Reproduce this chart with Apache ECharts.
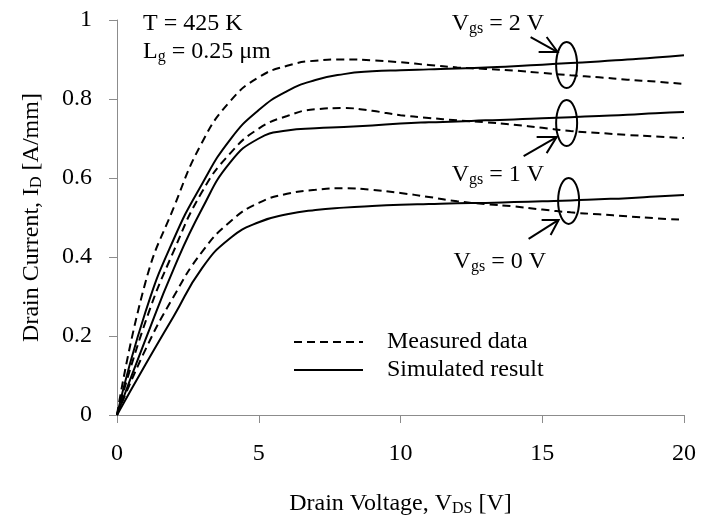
<!DOCTYPE html>
<html><head><meta charset="utf-8">
<script src="https://cdn.jsdelivr.net/npm/echarts@6/dist/echarts.min.js"></script>
<style>html,body{margin:0;padding:0;background:#fff}#c{width:702px;height:518px}</style>
</head><body><div id="c"></div>
<script>
// Drain voltage samples (V)
const vds = [0, 1, 2, 3, 4, 5, 6, 7, 8, 9, 10, 11, 12, 13, 14, 15, 16, 17, 18, 19, 20];
// Drain current (A/mm)
const measuredVgs2  = [0, 0.335, 0.525, 0.69, 0.795, 0.855, 0.884, 0.897, 0.9, 0.898, 0.893, 0.886, 0.88, 0.876, 0.872, 0.866, 0.86, 0.855, 0.849, 0.844, 0.838];
const simulatedVgs2 = [0, 0.26, 0.445, 0.585, 0.698, 0.772, 0.82, 0.848, 0.863, 0.87, 0.873, 0.875, 0.877, 0.88, 0.883, 0.887, 0.891, 0.895, 0.9, 0.905, 0.911];
const measuredVgs1  = [0, 0.235, 0.415, 0.565, 0.663, 0.725, 0.757, 0.774, 0.777, 0.77, 0.759, 0.752, 0.746, 0.741, 0.735, 0.727, 0.719, 0.714, 0.709, 0.705, 0.701];
const simulatedVgs1 = [0, 0.19, 0.37, 0.522, 0.64, 0.7, 0.72, 0.726, 0.729, 0.733, 0.738, 0.741, 0.743, 0.746, 0.748, 0.751, 0.754, 0.757, 0.76, 0.764, 0.767];
const measuredVgs0  = [0, 0.165, 0.3, 0.413, 0.49, 0.537, 0.56, 0.57, 0.574, 0.57, 0.562, 0.552, 0.541, 0.534, 0.528, 0.52, 0.513, 0.508, 0.503, 0.498, 0.494];
const simulatedVgs0 = [0, 0.127, 0.25, 0.372, 0.448, 0.488, 0.508, 0.519, 0.525, 0.529, 0.532, 0.534, 0.536, 0.537, 0.539, 0.541, 0.543, 0.546, 0.549, 0.553, 0.557];
// Axis ticks
const xTicks = {min: 0, max: 20, interval: 5};
const yTicks = {min: 0, max: 1, interval: 0.2};
// Annotation labels (gate voltages) and the point each ellipse marks
const gateLabels = ['2', '1', '0'];
const ellipseAt = [[15.86, 0.886], [15.86, 0.739], [15.93, 0.542]];

const FONT = '"Liberation Serif", "Times New Roman", serif';
const rich = {
  m: {fontFamily: FONT, fontSize: 24, lineHeight: 26, color: '#000'},
  s: {fontFamily: FONT, fontSize: 16, lineHeight: 10, verticalAlign: 'bottom', color: '#000'}
};
const pairs = ys => vds.map((v, i) => [v, ys[i]]);
const dashed = {color: '#000', width: 2, type: [8, 5]};
const solid = {color: '#000', width: 2, type: 'solid'};
const mk = (name, ys, ls) => ({
  type: 'line', name, data: pairs(ys), smooth: 0.5, symbol: 'none', showSymbol: false,
  lineStyle: ls, itemStyle: {color: '#000'}, silent: true
});

const chart = echarts.init(document.getElementById('c'), null, {renderer: 'canvas'});
const axisGray = '#8c8c8c';
chart.setOption({
  animation: false,
  backgroundColor: '#fff',
  grid: {left: 117, right: 18, top: 20, bottom: 103, containLabel: false, outerBoundsMode: 'none'},
  xAxis: {
    type: 'value', min: xTicks.min, max: xTicks.max, interval: xTicks.interval,
    axisLine: {lineStyle: {color: axisGray, width: 1}},
    axisTick: {show: true, length: 8, lineStyle: {color: axisGray}},
    splitLine: {show: false},
    axisLabel: {fontFamily: FONT, fontSize: 24, color: '#000', margin: 27},
    name: '{m|Drain Voltage, V}{s|DS}{m| [V]}', nameLocation: 'middle', nameGap: 76,
    nameTextStyle: {rich}
  },
  yAxis: {
    type: 'value', min: yTicks.min, max: yTicks.max, interval: yTicks.interval,
    axisLine: {show: true, lineStyle: {color: axisGray, width: 1}},
    axisTick: {show: true, length: 8, lineStyle: {color: axisGray}},
    splitLine: {show: false},
    axisLabel: {fontFamily: FONT, fontSize: 24, color: '#000', margin: 25},
    name: '{m|Drain Current, I}{s|D}{m| [A/mm]}', nameLocation: 'middle', nameGap: 72,
    nameTextStyle: {rich}
  },
  legend: {
    data: ['Measured data', 'Simulated result'], orient: 'vertical',
    left: 288, top: 325, itemWidth: 69, itemHeight: 14, itemGap: 4,
    selectedMode: false,
    itemStyle: {opacity: 0},
    textStyle: {fontFamily: FONT, fontSize: 24, lineHeight: 24, color: '#000', padding: [0, 0, 0, 19]}
  },
  series: [
    mk('Measured data', measuredVgs2, dashed),
    mk('Simulated result', simulatedVgs2, solid),
    mk('Measured data', measuredVgs1, dashed),
    mk('Simulated result', simulatedVgs1, solid),
    mk('Measured data', measuredVgs0, dashed),
    mk('Simulated result', simulatedVgs0, solid)
  ]
});

// Annotations: ellipses with arrows and gate-voltage labels
const arrowGeo = [
  {shaft: [[-36, -28], [-9, -13]], head: [[-20, -28], [-9, -13], [-28, -13]], label: [-115, -41]},
  {shaft: [[-43, 33], [-10, 14]], head: [[-30, 14], [-10, 14], [-20, 30]], label: [-115, 52]},
  {shaft: [[-40, 38], [-10, 19]], head: [[-27, 19], [-10, 19], [-18, 34]], label: [-115, 61]}
];
const g = [
  {type: 'text', left: 143, top: 12, silent: true,
   style: {text: '{m|T = 425 K}', rich, x: 0, y: 0}},
  {type: 'text', left: 143, top: 40, silent: true,
   style: {text: '{m|L}{s|g}{m| = 0.25 μm}', rich, x: 0, y: 0}}
];
ellipseAt.forEach((p, i) => {
  const [cx, cy] = chart.convertToPixel({gridIndex: 0}, p);
  const a = arrowGeo[i];
  const off = pt => [cx + pt[0], cy + pt[1]];
  g.push({type: 'ellipse', silent: true, shape: {cx, cy, rx: 10.5, ry: 23},
          style: {fill: 'none', stroke: '#000', lineWidth: 2}});
  g.push({type: 'polyline', silent: true, shape: {points: a.shaft.map(off)},
          style: {fill: 'none', stroke: '#000', lineWidth: 2}});
  g.push({type: 'polyline', silent: true, shape: {points: a.head.map(off)},
          style: {fill: 'none', stroke: '#000', lineWidth: 2}});
  g.push({type: 'text', silent: true, x: cx + a.label[0], y: cy + a.label[1],
          style: {text: '{m|V}{s|gs}{m| = ' + gateLabels[i] + ' V}', rich, verticalAlign: 'middle'}});
});
chart.setOption({graphic: g});
</script></body></html>
